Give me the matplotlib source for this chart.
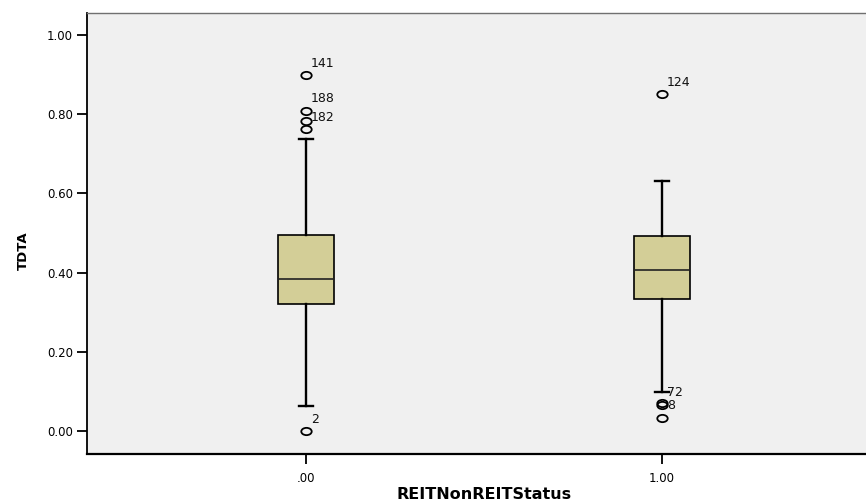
import matplotlib
matplotlib.use('Agg')
from matplotlib import pyplot as plt
from matplotlib.markers import MarkerStyle
from matplotlib.transforms import Affine2D

# data
groups = ['.00', '1.00']
q1 = [0.320, 0.333]
med = [0.385, 0.407]
q3 = [0.495, 0.492]
whislo = [0.063, 0.099]
whishi = [0.737, 0.631]
fliers = [[0.899, 0.809, 0.783, 0.762, 0.0],
          [0.850, 0.072, 0.066, 0.034]]
flier_ids = [['141', '188', '', '182', '2'],
             ['124', '', '72', '8']]

yticks = [0.0, 0.2, 0.4, 0.6, 0.8, 1.0]

plt.rcParams['font.family'] = ['DejaVu Sans']

fig = plt.figure(figsize=(8.66, 5.04), dpi=100)
# plot area runs past the right edge like the original export
ax = fig.add_axes([87 / 866, 50 / 504, 794 / 866, 441 / 504])
ax.set_facecolor('#f0f0f0')

stats = []
for i in range(len(groups)):
    stats.append(dict(q1=q1[i], med=med[i], q3=q3[i],
                      whislo=whislo[i], whishi=whishi[i],
                      fliers=fliers[i], label=groups[i]))

oval = MarkerStyle('o', transform=Affine2D().scale(1.0, 0.7))
ax.bxp(stats, positions=range(len(groups)), widths=0.157, capwidths=0.04,
       patch_artist=True,
       boxprops=dict(facecolor='#d3ce97', edgecolor='black', linewidth=1.2),
       medianprops=dict(color='#222222', linewidth=1.2),
       whiskerprops=dict(color='black', linewidth=1.7),
       capprops=dict(color='black', linewidth=1.7),
       flierprops=dict(marker=oval, markersize=7.5, markerfacecolor='none',
                       markeredgecolor='black', markeredgewidth=1.3))

# case numbers next to the outliers
for i in range(len(groups)):
    for v, lab in zip(fliers[i], flier_ids[i]):
        if lab:
            ax.annotate(lab, (i, v), xytext=(5, 12), textcoords='offset pixels',
                        ha='left', va='center', fontsize=9, color='#111111')

ax.set_xlim(-0.615, 1.615)
ax.set_ylim(-0.058, 1.0556)
ax.set_yticks(yticks)
ax.set_yticklabels(['%.2f' % t for t in yticks])
ax.set_xticks(range(len(groups)))
ax.set_xticklabels(groups)
ax.tick_params(axis='both', direction='out', length=7, width=1.3,
               labelsize=8.5, colors='black')
ax.tick_params(axis='y', pad=3)
ax.tick_params(axis='x', pad=6)

ax.spines['right'].set_visible(False)
ax.spines['top'].set_color('#707070')
ax.spines['top'].set_linewidth(1.0)
ax.spines['left'].set_linewidth(1.3)
ax.spines['bottom'].set_linewidth(1.6)

ax.set_ylabel('TDTA', fontsize=9.5, fontweight='bold')
ax.set_xlabel('REITNonREITStatus', fontsize=11.5, fontweight='bold')
ax.yaxis.set_label_coords(-0.072, 0.46)
ax.xaxis.set_label_coords(0.5, -0.074)

plt.savefig('out.png', dpi=100)
